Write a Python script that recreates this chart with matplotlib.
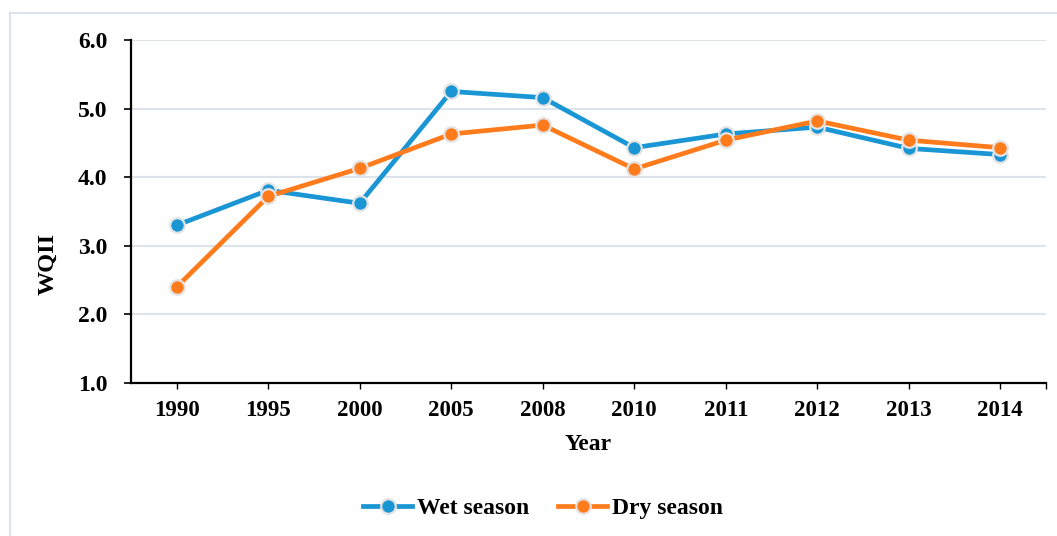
import matplotlib.pyplot as plt
from matplotlib.patches import Rectangle
import numpy as np

years = ['1990', '1995', '2000', '2005', '2008', '2010', '2011', '2012', '2013', '2014']
wet = [3.30, 3.81, 3.62, 5.25, 5.16, 4.43, 4.63, 4.73, 4.42, 4.33]
dry = [2.40, 3.72, 4.13, 4.63, 4.76, 4.12, 4.54, 4.82, 4.54, 4.43]

plt.rcParams['font.family'] = ['Liberation Serif', 'DejaVu Serif']
plt.rcParams['font.weight'] = 'bold'

W, H = 1057, 536
fig = plt.figure(figsize=(W / 100, H / 100), dpi=100)

# light outer frame like the source chart area
fig.patches.append(Rectangle((10 / W, -0.05), 1.2, 1 - 13 / H + 0.05,
                             transform=fig.transFigure, fill=False,
                             edgecolor='#dde3ea', linewidth=1.5))

ax = fig.add_axes([131 / W, 1 - 383 / H, (1046 - 131) / W, (383 - 40) / H])
x = np.arange(len(years))

grid_col = '#dde3ea'
for v in [2.0, 3.0, 4.0, 5.0, 6.0]:
    ax.axhline(v, color=grid_col, linewidth=1.5, zorder=0)

ax.plot(x, wet, color='#1a96d5', linewidth=3.4, marker='o', markersize=10.5,
        markerfacecolor='#1a96d5', markeredgecolor='#e3e3e3', markeredgewidth=1.6,
        label='Wet season', zorder=3)
ax.plot(x, dry, color='#ff7b1c', linewidth=3.4, marker='o', markersize=10.5,
        markerfacecolor='#ff7b1c', markeredgecolor='#e3e3e3', markeredgewidth=1.6,
        label='Dry season', zorder=4)

ax.set_xlim(-0.5, len(years) - 0.5)
ax.set_ylim(1.0, 6.0)
ax.set_yticks([1.0, 2.0, 3.0, 4.0, 5.0, 6.0])
ax.set_yticklabels(['1.0', '2.0', '3.0', '4.0', '5.0', '6.0'])
ax.set_xticks(x)
ax.set_xticklabels(years)
ax.set_xticks([len(years) - 0.5], minor=True)

for s in ['top', 'right']:
    ax.spines[s].set_visible(False)
for s in ['left', 'bottom']:
    ax.spines[s].set_linewidth(1.6)
    ax.spines[s].set_color('black')

ax.tick_params(axis='y', length=5, width=1.2, pad=12, labelsize=17)
ax.tick_params(axis='x', length=4, width=1.0, pad=8, labelsize=16.5)
ax.tick_params(axis='x', which='minor', length=4, width=1.0)

fig.text(588 / W, 1 - 445 / H, 'Year', ha='center', va='center',
         fontsize=17, fontweight='bold')
fig.text(48 / W, 1 - 264 / H, 'WQII', ha='center', va='center', rotation=90,
         fontsize=17.5, fontweight='bold')

fig.legend(loc='center', bbox_to_anchor=(543 / W, 1 - 508 / H), ncol=2,
           frameon=False, handlelength=2.1, handletextpad=0.2,
           columnspacing=1.2, prop={'weight': 'bold', 'size': 17})

fig.savefig('out.png', dpi=100)
